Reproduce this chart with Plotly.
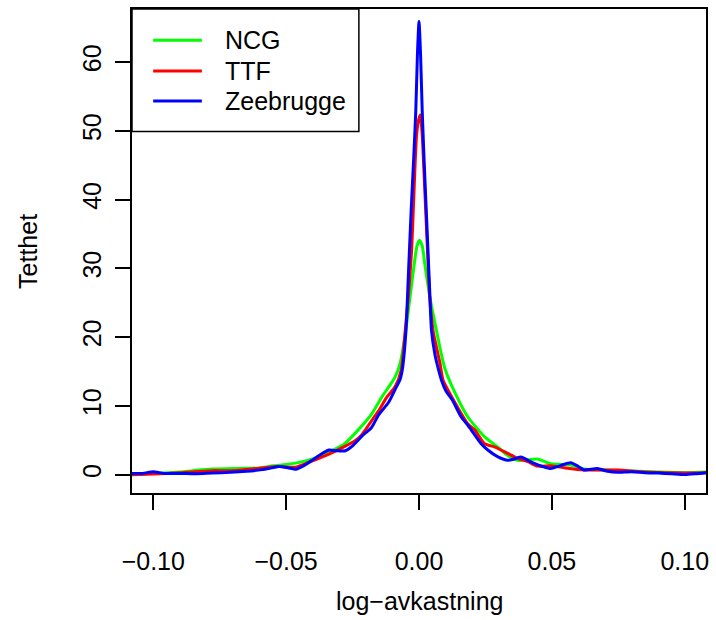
import plotly.graph_objects as go

# ---- data ----
ncg_x = [-0.108, -0.100, -0.090, -0.085, -0.078, -0.070, -0.060, -0.055, -0.050, -0.045,
         -0.040, -0.0339, -0.0283, -0.0227, -0.0177, -0.0152, -0.0140, -0.0110, -0.0090,
         -0.0071, -0.0050, -0.0034, -0.0018, -0.0008, 0.0002, 0.0012, 0.0022, 0.0041,
         0.0066, 0.0097, 0.0147, 0.0184, 0.0247, 0.0297, 0.0334, 0.0371, 0.0410, 0.0446,
         0.0496, 0.0571, 0.0621, 0.070, 0.080, 0.090, 0.100, 0.108]
ncg_y = [0.1, 0.2, 0.4, 0.6, 0.85, 0.9, 1.0, 1.3, 1.5, 1.8,
         2.3, 3.3, 4.4, 6.6, 8.9, 10.5, 11.3, 13.0, 14.2,
         16.2, 20.9, 25.8, 30.6, 33.2, 34.1, 33.3, 30.6, 25.8,
         20.9, 15.5, 11.0, 8.4, 5.5, 4.0, 2.8, 2.1, 2.2, 2.3,
         1.6, 1.4, 0.85, 0.7, 0.55, 0.4, 0.3, 0.4]

ttf_x = [-0.108, -0.100, -0.090, -0.078, -0.071, -0.059, -0.0527, -0.0464, -0.0403, -0.0339,
         -0.029, -0.0239, -0.0216, -0.0165, -0.0152, -0.0121, -0.009, -0.0067, -0.0052, -0.004,
         -0.0028, -0.002, -0.0009, 0.0, 0.0005, 0.0012, 0.002, 0.0032, 0.004, 0.0053,
         0.0079, 0.0091, 0.0128, 0.0184, 0.021, 0.0247, 0.0284, 0.0334, 0.0371, 0.0410,
         0.0446, 0.0496, 0.055, 0.0621, 0.0680, 0.0746, 0.087, 0.100, 0.108]
ttf_y = [0.0, 0.1, 0.3, 0.6, 0.6, 1.0, 1.2, 1.1, 2.0, 3.0,
         3.9, 5.0, 5.8, 8.6, 9.3, 11.3, 12.8, 15.2, 20.9, 26.0,
         32.5, 40.0, 49.5, 51.8, 52.3, 49.5, 43.0, 32.5, 26.0, 20.9,
         16.2, 13.7, 11.0, 7.4, 6.5, 4.5, 4.05, 3.1, 2.4, 1.9,
         1.26, 1.3, 1.0, 0.7, 0.7, 0.7, 0.35, 0.25, 0.3]

zee_x = [-0.108, -0.104, -0.100, -0.096, -0.090, -0.084, -0.078, -0.071, -0.065, -0.059,
         -0.0555, -0.0527, -0.049, -0.0464, -0.043, -0.0403, -0.036, -0.0339, -0.031, -0.0277,
         -0.025, -0.021, -0.018, -0.0152, -0.0115, -0.009, -0.0071, -0.0062, -0.0049, -0.004,
         -0.003, -0.002, -0.0012, -0.0006, 0.0, 0.0006, 0.0012, 0.002, 0.003, 0.004,
         0.0047, 0.006, 0.0072, 0.0085, 0.010, 0.0125, 0.0159, 0.0184, 0.0197, 0.0234,
         0.0259, 0.0297, 0.0334, 0.036, 0.0384, 0.041, 0.0434, 0.0465, 0.0496, 0.053,
         0.0571, 0.060, 0.0621, 0.0671, 0.071, 0.0746, 0.080, 0.085, 0.090, 0.095,
         0.100, 0.104, 0.108]
zee_y = [0.2, 0.2, 0.45, 0.2, 0.2, 0.15, 0.25, 0.35, 0.5, 0.75,
         1.0, 1.2, 1.0, 0.8, 1.4, 2.1, 3.2, 3.6, 3.5, 3.5,
         4.2, 5.8, 6.8, 8.7, 10.5, 12.4, 13.9, 15.5, 21.0, 29.0,
         38.0, 46.0, 53.0, 61.0, 65.9, 61.0, 53.0, 45.0, 36.0, 27.0,
         21.0, 17.5, 15.5, 13.7, 12.3, 10.9, 8.4, 7.2, 6.5, 4.5,
         3.6, 2.6, 2.1, 2.3, 2.6, 2.1, 1.65, 1.2, 0.9, 1.3,
         1.75, 1.2, 0.7, 0.9, 0.5, 0.35, 0.45, 0.3, 0.25, 0.15,
         0.05, 0.15, 0.3]

series_names = ["NCG", "TTF", "Zeebrugge"]
series_colors = ["#00FF00", "#FF0000", "#0000FF"]

x_tickvals = [-0.10, -0.05, 0.00, 0.05, 0.10]
x_ticktext = ["\u22120.10", "\u22120.05", "0.00", "0.05", "0.10"]
y_tickvals = [0, 10, 20, 30, 40, 50, 60]
y_ticktext = ["0", "10", "20", "30", "40", "50", "60"]

FONT = "Liberation Sans, Arial, Helvetica, sans-serif"
FS = 25

fig = go.Figure()
for xs, ys, name, col in zip([ncg_x, ttf_x, zee_x], [ncg_y, ttf_y, zee_y],
                             series_names, series_colors):
    fig.add_trace(go.Scatter(x=xs, y=ys, mode="lines", name=name,
                             line=dict(color=col, width=3, shape="spline", smoothing=0.6),
                             showlegend=False, hoverinfo="skip"))

# legend drawn as box + sample lines + labels (paper coordinates)
L, R, T, B = 131.7, 709.3, 7.0, 493.0
def px(xp):
    return (xp - L) / (R - L)
def py(yp):
    return (B - yp) / (B - T)

shapes = [dict(type="rect", xref="paper", yref="paper", x0=px(131.7), x1=px(360),
               y0=py(130), y1=py(7), line=dict(color="black", width=1.5),
               fillcolor="white", layer="above")]
annotations = []
leg_y = [38.3, 69.3, 99.3]
for name, col, yy in zip(series_names, series_colors, leg_y):
    shapes.append(dict(type="line", xref="paper", yref="paper", x0=px(153), x1=px(202),
                       y0=py(yy), y1=py(yy), line=dict(color=col, width=3), layer="above"))
    annotations.append(dict(text=name, xref="paper", yref="paper", x=px(223), y=py(yy),
                            xanchor="left", yanchor="middle", showarrow=False,
                            font=dict(size=FS, color="black", family=FONT)))

annotations.append(dict(text="log\u2212avkastning", xref="paper", yref="paper",
                        x=0.5, y=py(601), xanchor="center", yanchor="middle",
                        showarrow=False, font=dict(size=FS, color="black", family=FONT)))
annotations.append(dict(text="Tetthet", xref="paper", yref="paper",
                        x=px(27), y=0.5, xanchor="center", yanchor="middle", textangle=-90,
                        showarrow=False, font=dict(size=FS, color="black", family=FONT)))

fig.update_layout(
    width=716, height=620,
    margin=dict(l=132, r=7, t=7, b=127, pad=0),
    paper_bgcolor="white", plot_bgcolor="white",
    font=dict(family=FONT, size=FS, color="black"),
    shapes=shapes, annotations=annotations,
    xaxis=dict(range=[-0.108, 0.108], tickvals=x_tickvals, ticktext=x_ticktext,
               ticks="outside", ticklen=15, tickwidth=1.5, tickcolor="black",
               showline=True, linecolor="black", linewidth=1.5, mirror=True,
               showgrid=False, zeroline=False, ticklabelstandoff=30,
               tickfont=dict(size=FS, family=FONT)),
    yaxis=dict(range=[-2.65, 67.72], tickvals=y_tickvals, ticktext=y_ticktext,
               ticks="outside", ticklen=15, tickwidth=1.5, tickcolor="black",
               showline=True, linecolor="black", linewidth=1.5, mirror=True,
               showgrid=False, zeroline=False, tickangle=-90, ticklabelstandoff=4,
               tickfont=dict(size=FS, family=FONT)),
)

fig.write_html("out.html")
